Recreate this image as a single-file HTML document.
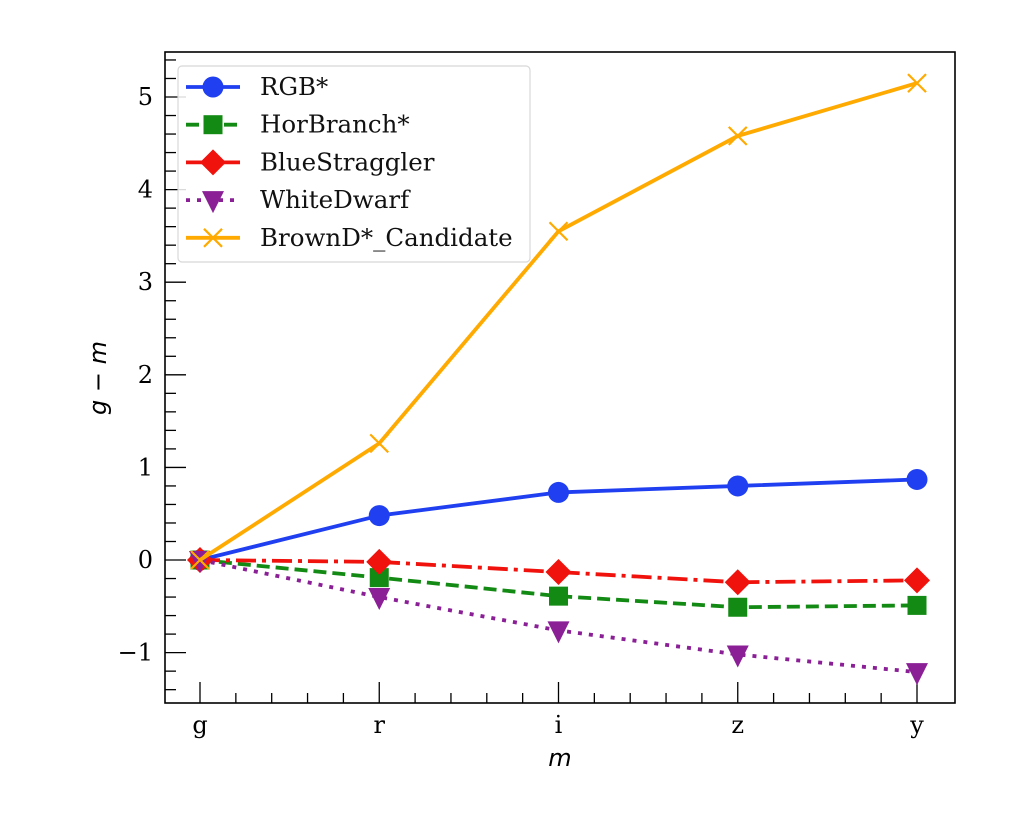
<!DOCTYPE html>
<html><head><meta charset="utf-8"><style>
body{margin:0;background:#fff;}
svg text{font-family:"DejaVu Serif","Liberation Serif",serif;}
</style></head><body>
<svg id="chart" width="1010" height="820" xmlns="http://www.w3.org/2000/svg">
<g id="plot"></g>
</svg>
<script>
const categories = ["g","r","i","z","y"];
const rgbValues = [0, 0.48, 0.73, 0.80, 0.87];
const horValues = [0, -0.19, -0.39, -0.51, -0.49];
const blueValues = [0, -0.02, -0.13, -0.24, -0.22];
const wdValues = [0, -0.40, -0.76, -1.02, -1.21];
const brownValues = [0, 1.26, 3.55, 4.58, 5.15];
const yTicks = [-1, 0, 1, 2, 3, 4, 5];
const seriesNames = ["RGB*","HorBranch*","BlueStraggler","WhiteDwarf","BrownD*_Candidate"];

const L=165,R=955,T=52,B=703;
const yMin=-1.544,yMax=5.486;
const x0=200,x1=917;
function xs(i){return x0+i*(x1-x0)/(categories.length-1);}
function ys(v){return B-(v-yMin)/(yMax-yMin)*(B-T);}
const NS="http://www.w3.org/2000/svg";
const svg=document.getElementById('chart');
const plot=document.getElementById('plot');
function mk(tag,attrs,parent){const e=document.createElementNS(NS,tag);for(const k in attrs)e.setAttribute(k,attrs[k]);(parent||plot).appendChild(e);return e;}

let fr=mk('rect',{x:L,y:T,width:R-L,height:B-T,fill:'none',stroke:'#000','stroke-width':1.6});



for(let v=-1.4;v<=5.41;v+=0.2){
  const vv=Math.round(v*10)/10;
  const major=Math.abs(vv-Math.round(vv))<1e-6;
  const t=mk('line',{x1:L,x2:L+(major?21:11),y1:ys(vv),y2:ys(vv),stroke:'#000','stroke-width':1.3});
  
  
}
yTicks.forEach(v=>{
  const t=mk('text',{x:L-12,y:ys(v)+8,'text-anchor':'end','font-size':24,fill:'#000'});
  t.textContent=v<0?'\u2212'+Math.abs(v):String(v);
  
  
});
categories.forEach((c,i)=>{
  const t=mk('line',{x1:xs(i),x2:xs(i),y1:B,y2:B-21,stroke:'#000','stroke-width':1.3});
  
  
  const lb=mk('text',{x:xs(i),y:B+30,'text-anchor':'middle','font-size':24,fill:'#000'});
  lb.textContent=c;
  
  
  if(i<categories.length-1){
    for(let k=1;k<5;k++){
      const xm=xs(i)+k*(xs(i+1)-xs(i))/5;
      const m=mk('line',{x1:xm,x2:xm,y1:B,y2:B-10,stroke:'#000','stroke-width':1.3});
      
      
    }
  }
});
let xl=mk('text',{x:(L+R)/2,y:766,'text-anchor':'middle','font-size':24,'font-style':'italic',fill:'#000',style:'font-family:"DejaVu Sans",sans-serif'});
xl.textContent='m';


let yl=mk('text',{x:0,y:0,'text-anchor':'middle','font-size':24,'font-style':'italic',fill:'#000',transform:'translate(106,378) rotate(-90)',style:'font-family:"DejaVu Sans",sans-serif'});
yl.textContent='g \u2212 m';



const styles=[
 {vals:rgbValues,color:'#1f3ff0',dash:'',marker:'circle',name:'rgb'},
 {vals:horValues,color:'#138a13',dash:'13,6',marker:'square',name:'hor-branch'},
 {vals:blueValues,color:'#f0120c',dash:'20,6,4,6',marker:'diamond',name:'blue-straggler'},
 {vals:wdValues,color:'#8a1f96',dash:'4,7',marker:'tri',name:'white-dwarf'},
 {vals:brownValues,color:'#ffaa00',dash:'',marker:'x',name:'brown-dwarf'}
];
function marker(type,x,y,color,parent){
  let e;
  if(type==='circle')e=mk('circle',{cx:x,cy:y,r:10.5,fill:color},parent);
  else if(type==='square')e=mk('rect',{x:x-9.5,y:y-9.5,width:19,height:19,fill:color},parent);
  else if(type==='diamond')e=mk('polygon',{points:`${x},${y-13} ${x+13},${y} ${x},${y+13} ${x-13},${y}`,fill:color},parent);
  else if(type==='tri')e=mk('polygon',{points:`${x-11},${y-9} ${x+11},${y-9} ${x},${y+13}`,fill:color},parent);
  else e=mk('path',{d:`M${x-9},${y-9}L${x+9},${y+9}M${x-9},${y+9}L${x+9},${y-9}`,stroke:color,'stroke-width':2.2,fill:'none'},parent);
  return e;
}
styles.forEach(s=>{
  const g=mk('g',{});
  
  
  const pts=s.vals.map((v,i)=>xs(i)+','+ys(v)).join(' ');
  const pl=mk('polyline',{points:pts,fill:'none',stroke:s.color,'stroke-width':3.8,'stroke-dasharray':s.dash},g);
  
  
  s.vals.forEach((v,i)=>{
    const m=marker(s.marker,xs(i),ys(v),s.color,g);
    
    
  });
});
const lg=mk('g',{});


mk('rect',{x:178,y:66,width:352,height:196,rx:4,fill:'#fff','fill-opacity':0.85,stroke:'#d8d8d8','stroke-width':1.2},lg);
styles.forEach((s,i)=>{
  const y=87+i*37.7;
  const e=mk('g',{},lg);
  
  
  mk('line',{x1:186,x2:240,y1:y,y2:y,stroke:s.color,'stroke-width':3.8,'stroke-dasharray':s.dash},e);
  marker(s.marker,213,y,s.color,e);
  const t=mk('text',{x:260,y:y+8,'font-size':24.5,fill:'#111'},e);
  t.textContent=seriesNames[i];
});
</script>
</body></html>
